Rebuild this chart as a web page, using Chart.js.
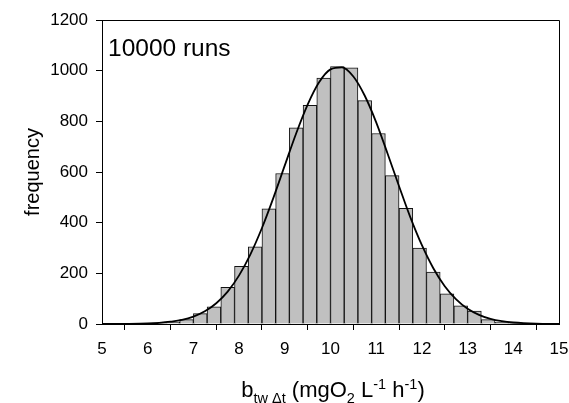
<!DOCTYPE html>
<html lang="en">
<head>
    <meta charset="UTF-8">
    <title>10000 runs histogram</title>
    <script src="https://cdn.jsdelivr.net/npm/chart.js"></script>
    <style>
        body {
            margin: 0;
            background: #fff;
        }
        canvas {
            display: block;
        }
    </style>
</head>
<body>
    <canvas id="histChart" width="569" height="403"></canvas>

    <script>
        // histogram bins (centre of each 0.3 wide bin) and counts
        const binCenters = [5.65, 5.95, 6.25, 6.55, 6.85, 7.15, 7.45, 7.75, 8.05, 8.35,
                            8.65, 8.95, 9.25, 9.55, 9.85, 10.15, 10.45, 10.75, 11.05, 11.35,
                            11.65, 11.95, 12.25, 12.55, 12.85, 13.15, 13.45, 13.75, 14.05, 14.35];
        const binCounts = [1, 2, 4, 8, 17, 41, 68, 145, 228, 305,
                           455, 594, 774, 863, 971, 1016, 1011, 882, 752, 586,
                           457, 300, 205, 119, 72, 51, 17, 7, 3, 1];

        // fitted curve, points
        const curveX = [5, 5.5, 6, 6.25, 6.5, 6.75, 7, 7.25, 7.5, 7.75, 8, 8.25, 8.5, 8.75,
                        9, 9.25, 9.5, 9.75, 10, 10.25, 10.5, 10.75, 11, 11.25, 11.5, 11.75,
                        12, 12.25, 12.5, 12.75, 13, 13.25, 13.5, 13.75, 14, 14.5, 15];
        const curveY = [0.1, 0.5, 2, 4.5, 9, 16, 29, 50, 82, 128, 192, 276, 379, 498,
                        626, 753, 866, 954, 1005, 1013, 977, 901, 796, 672, 544, 420,
                        311, 220, 149, 97, 60, 36, 20, 11, 6, 1.4, 0.3];

        const xMin = 5, xMax = 15, xStep = 1;
        const yMin = 0, yMax = 1200, yStep = 200;

        const runsLabel = '10000 runs';
        const yTitle = 'frequency';

        Chart.defaults.font.family = "'Liberation Sans', Arial, sans-serif";
        Chart.defaults.color = '#000';

        // draws the frame, the annotation and both axis titles
        const decorations = {
            id: 'decorations',
            afterDraw(chart) {
                const ctx = chart.ctx;
                const a = chart.chartArea;
                ctx.save();

                ctx.strokeStyle = '#000';
                ctx.lineWidth = 1;
                ctx.beginPath();
                ctx.moveTo(Math.round(a.left) + 0.5, Math.round(a.top) + 0.5);
                ctx.lineTo(Math.round(a.right) + 0.5, Math.round(a.top) + 0.5);
                ctx.lineTo(Math.round(a.right) + 0.5, Math.round(a.bottom) + 0.5);
                ctx.stroke();

                ctx.fillStyle = '#000';
                ctx.font = "24.5px 'Liberation Sans', Arial, sans-serif";
                ctx.textAlign = 'left';
                ctx.textBaseline = 'alphabetic';
                ctx.fillText(runsLabel, a.left + 6, a.top + 36);

                // y title
                ctx.save();
                ctx.translate(33, (a.top + a.bottom) / 2);
                ctx.rotate(-Math.PI / 2);
                ctx.font = "20px 'Liberation Sans', Arial, sans-serif";
                ctx.textAlign = 'center';
                ctx.textBaseline = 'middle';
                ctx.fillText(yTitle, 0, 0);
                ctx.restore();

                // x title with sub- and superscripts
                const parts = [
                    { t: 'b', s: 22, dy: 0 },
                    { t: 'tw \u0394t', s: 14.5, dy: 6 },
                    { t: ' (mgO', s: 22, dy: 0 },
                    { t: '2', s: 14.5, dy: 6 },
                    { t: ' L', s: 22, dy: 0 },
                    { t: '-1', s: 14.5, dy: -8 },
                    { t: ' h', s: 22, dy: 0 },
                    { t: '-1', s: 14.5, dy: -8 },
                    { t: ')', s: 22, dy: 0 }
                ];
                let total = 0;
                parts.forEach(p => {
                    ctx.font = p.s + "px 'Liberation Sans', Arial, sans-serif";
                    p.w = ctx.measureText(p.t).width;
                    total += p.w;
                });
                let x = 333 - total / 2;
                const base = 397;
                ctx.textAlign = 'left';
                ctx.textBaseline = 'alphabetic';
                parts.forEach(p => {
                    ctx.font = p.s + "px 'Liberation Sans', Arial, sans-serif";
                    ctx.fillText(p.t, x, base + p.dy);
                    x += p.w;
                });

                ctx.restore();
            }
        };

        const ctx = document.getElementById('histChart').getContext('2d');
        const chart = new Chart(ctx, {
            type: 'bar',
            data: {
                datasets: [
                    {
                        type: 'line',
                        data: curveX.map((x, i) => ({ x: x, y: curveY[i] })),
                        borderColor: '#000',
                        borderWidth: 1.8,
                        pointRadius: 0,
                        cubicInterpolationMode: 'monotone',
                        fill: false,
                        order: 0
                    },
                    {
                        type: 'bar',
                        data: binCenters.map((x, i) => ({ x: x, y: binCounts[i] })),
                        backgroundColor: '#c0c0c0',
                        borderColor: '#111',
                        borderWidth: 1,
                        barPercentage: 1,
                        categoryPercentage: 1,
                        order: 1
                    }
                ]
            },
            options: {
                responsive: false,
                animation: false,
                events: [],
                layout: {
                    padding: { left: 0, right: 10, top: 20, bottom: 0 }
                },
                plugins: {
                    legend: { display: false },
                    tooltip: { enabled: false }
                },
                scales: {
                    x: {
                        type: 'linear',
                        min: xMin,
                        max: xMax,
                        offset: false,
                        ticks: {
                            stepSize: xStep,
                            padding: 9,
                            font: { size: 17 },
                            color: '#000'
                        },
                        grid: {
                            drawOnChartArea: false,
                            drawTicks: true,
                            tickLength: 6,
                            color: '#000'
                        },
                        border: { display: true, color: '#000', width: 1 },
                        afterFit(scale) {
                            scale.height = 79;
                            scale.paddingLeft = 0;
                            scale.paddingRight = 0;
                        }
                    },
                    y: {
                        min: yMin,
                        max: yMax,
                        ticks: {
                            stepSize: yStep,
                            padding: 8,
                            font: { size: 17 },
                            color: '#000',
                            callback: v => String(v)
                        },
                        grid: {
                            drawOnChartArea: false,
                            drawTicks: true,
                            tickLength: 6,
                            color: '#000'
                        },
                        border: { display: true, color: '#000', width: 1 },
                        afterFit(scale) { scale.width = 102; }
                    }
                }
            },
            plugins: [decorations]
        });
    </script>
</body>
</html>
